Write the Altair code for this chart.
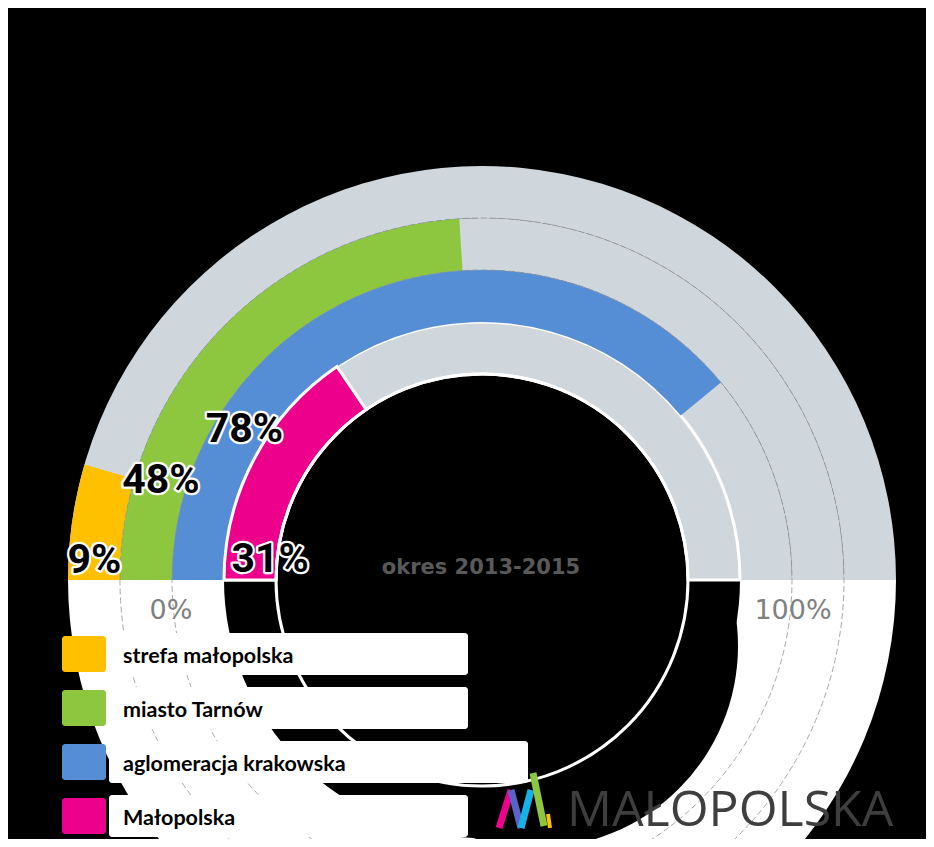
import math
import altair as alt
import pandas as pd

# ---- data ----
series = ["strefa małopolska", "miasto Tarnów", "aglomeracja krakowska", "Małopolska"]
values = [9, 48, 78, 31]
colors = ["#FFC000", "#8DC63F", "#558ED5", "#EC008C"]
rings = [0, 1, 2, 3]
labels = ["9%", "48%", "78%", "31%"]
period = "okres 2013-2015"
tick_values = [0, 100]
tick_labels = ["0%", "100%"]
brand = "MAŁOPOLSKA"

# label anchors in the chart's own units (percent along arc, ring index)
label_at = [1.6, 9.5, 17.9, 3.0]
label_ring = [0.5, 1.5, 2.56, 3.87]

CX, CY = 474, 572
PI = math.pi

theta_scale = alt.Scale(domain=[0, 200], range=[-PI / 2, 3 * PI / 2])
radius_scale = alt.Scale(type="linear", domain=[0, 4], range=[414, 206], zero=False)
color_scale = alt.Scale(domain=series, range=colors)
legend_y = alt.Scale(domain=[0, 3], range=[646, 808])

df = pd.DataFrame({"series": series, "value": values, "ring": rings,
                   "label": labels, "lt": label_at, "lr": label_ring,
                   "idx": list(range(len(series)))})
one = pd.DataFrame({"k": [0]})
grid = pd.DataFrame({"g": [1, 2]})
ticks = pd.DataFrame({"t": tick_values, "text": tick_labels})

cx = alt.value(CX)
cy = alt.value(CY)


def th(field):
    return alt.Theta(field, type="quantitative", stack=None, scale=theta_scale)


def rad(field):
    return alt.Radius(field, type="quantitative", scale=radius_scale)


# lower (hidden) half of the doughnut: from 100 to 200 on the angular scale
lower_half = alt.Chart(one).transform_calculate(
    t0="100", t1="200", r0="0", r1="3"
).mark_arc(fill="white").encode(
    x=cx, y=cy, theta=th("t0"), theta2=alt.Theta2(field="t1"),
    radius=rad("r0"), radius2=alt.Radius2(field="r1"),
)

hole_ext = alt.Chart(one).mark_arc(fill="black").encode(
    x=alt.value(528), y=alt.value(638),
    theta=alt.value(0), theta2=alt.value(2 * PI),
    radius=alt.value(202), radius2=alt.value(0),
)

tracks = alt.Chart(df).transform_calculate(
    ring2="datum.ring + 1", t0="0", t1="100"
).mark_arc(fill="#D0D7DC").encode(
    x=cx, y=cy, theta=th("t0"), theta2=alt.Theta2(field="t1"),
    radius=rad("ring"), radius2=alt.Radius2(field="ring2"),
    stroke=alt.condition("datum.ring == 3", alt.value("white"), alt.value("transparent")),
    strokeWidth=alt.value(3),
)

bars = alt.Chart(df).transform_calculate(
    ring2="datum.ring + 1", t0="0"
).mark_arc().encode(
    x=cx, y=cy, theta=th("t0"), theta2=alt.Theta2(field="value"),
    radius=rad("ring"), radius2=alt.Radius2(field="ring2"),
    color=alt.Color("series:N", scale=color_scale, legend=None),
    stroke=alt.condition("datum.ring == 3", alt.value("white"), alt.value("transparent")),
    strokeWidth=alt.value(3),
)

gridlines = alt.Chart(grid).transform_calculate(t0="0", t1="200").mark_arc(
    filled=False, stroke="#8E9499", strokeWidth=0.8, strokeDash=[6, 3]
).encode(
    x=cx, y=cy, theta=th("t0"), theta2=alt.Theta2(field="t1"),
    radius=rad("g"), radius2=alt.value(0),
)

inner_circle = alt.Chart(one).transform_calculate(t0="0", t1="200", r="4").mark_arc(
    filled=False, stroke="white", strokeWidth=3
).encode(
    x=cx, y=cy, theta=th("t0"), theta2=alt.Theta2(field="t1"),
    radius=rad("r"), radius2=alt.value(0),
)

label_font = "Roboto, DejaVu Sans Condensed, sans-serif"
label_enc = dict(x=cx, y=cy, theta=th("lt"), radius=rad("lr"), text="label:N")
labels_halo = alt.Chart(df).mark_text(
    font=label_font, fontSize=41, fontWeight="bold", fill="white", stroke="white",
    strokeWidth=4.5, strokeJoin="round", align="center", baseline="middle"
).encode(**label_enc)
labels_txt = alt.Chart(df).mark_text(
    font=label_font, fontSize=41, fontWeight="bold", fill="black",
    align="center", baseline="middle"
).encode(**label_enc)

tick_txt = alt.Chart(ticks).transform_calculate(r="1.98").mark_text(
    font="DejaVu Sans", fontSize=27, color="#808080",
    align="center", baseline="middle", dy=31
).encode(x=cx, y=cy, theta=th("t"), radius=rad("r"), text="text:N")

period_txt = alt.Chart(one).mark_text(
    font="DejaVu Sans", fontSize=21, fontWeight="bold", color="#595959",
    align="center", baseline="middle"
).encode(x=alt.value(473), y=alt.value(560), text=alt.value(period))

long_item = "datum.series == 'aglomeracja krakowska'"
box_y = dict(y=alt.Y("idx:Q", scale=legend_y, axis=None), y2=alt.Y2(field="idx"))
leg_boxes = alt.Chart(df).transform_filter("!(" + long_item + ")").mark_rect(
    fill="white", cornerRadius=3, yOffset=-21, y2Offset=21).encode(
    x=alt.value(101), x2=alt.value(460), **box_y)
leg_boxes_long = alt.Chart(df).transform_filter(long_item).mark_rect(
    fill="white", cornerRadius=3, yOffset=-21, y2Offset=21).encode(
    x=alt.value(101), x2=alt.value(520), **box_y)
leg_squares = alt.Chart(df).mark_rect(cornerRadius=3, yOffset=-18, y2Offset=18).encode(
    x=alt.value(54), x2=alt.value(98),
    color=alt.Color("series:N", scale=color_scale, legend=None),
    **box_y,
)
leg_text = alt.Chart(df).mark_text(
    font="Lato", fontSize=21.5, fontWeight="bold", color="black",
    align="left", baseline="middle", dy=3
).encode(x=alt.value(115), y=alt.Y("idx:Q", scale=legend_y, axis=None), text="series:N")


def stroke(x1, y1, x2, y2, col, w=7):
    return alt.Chart(one).mark_rule(color=col, strokeWidth=w, strokeCap="butt").encode(
        x=alt.value(x1), y=alt.value(y1), x2=alt.value(x2), y2=alt.value(y2))


logo = [
    stroke(491, 820, 503, 782, "#EC008C"),
    stroke(503, 782, 513, 820, "#5A62C8"),
    stroke(513, 820, 523, 782, "#16B1E6"),
    stroke(525, 765, 536, 818, "#8DC63F"),
    stroke(540, 806, 542, 820, "#FFC000", 4),
]
brand_txt = alt.Chart(one).mark_text(
    font="Open Sans", fontSize=50, color="#3E3E3E", align="left", baseline="alphabetic"
).encode(x=alt.value(559), y=alt.value(818), text=alt.value(brand))

chart = alt.layer(
    lower_half, hole_ext, tracks, bars, gridlines, inner_circle,
    labels_halo, labels_txt, tick_txt, period_txt,
    leg_boxes, leg_boxes_long, leg_squares, leg_text, *logo, brand_txt,
).properties(
    width=918, height=831, background="black", padding=0, autosize="none"
).configure_view(strokeWidth=0)

chart.save("out.html", embed_options={"renderer": "svg", "actions": False})
